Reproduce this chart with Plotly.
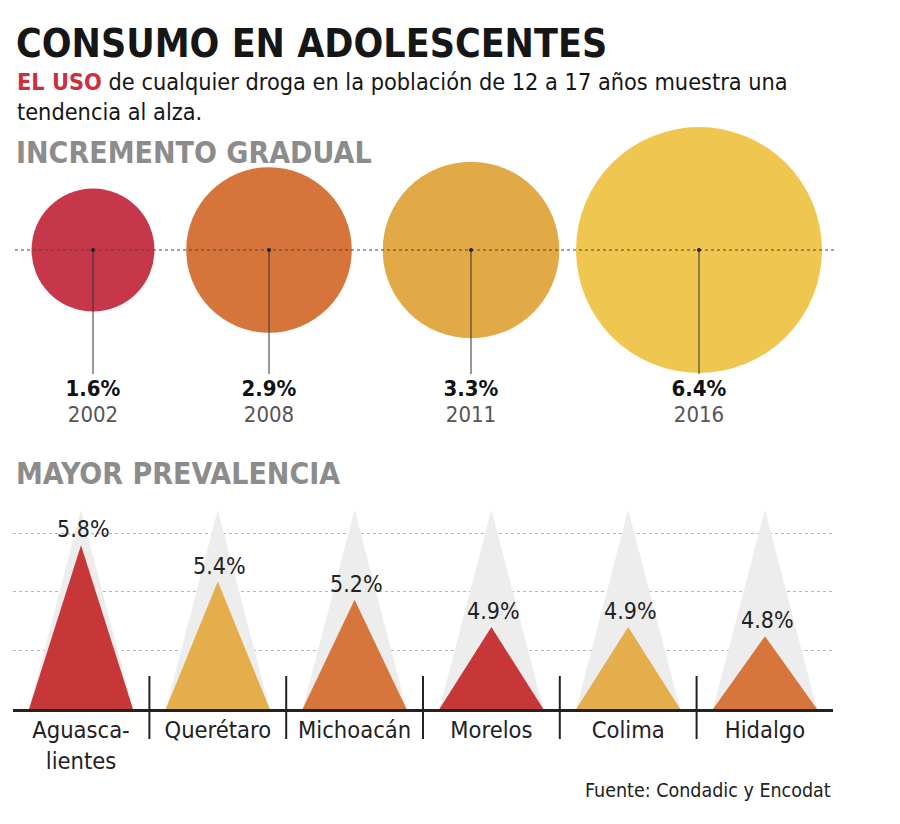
import plotly.graph_objects as go

# ---------------- data ----------------
years = ["2002", "2008", "2011", "2016"]
use_pct = [1.6, 2.9, 3.3, 6.4]

states = ["Aguascalientes", "Querétaro", "Michoacán", "Morelos", "Colima", "Hidalgo"]
state_labels = ["Aguasca-<br>lientes", "Querétaro", "Michoacán", "Morelos", "Colima", "Hidalgo"]
state_pct = [5.8, 5.4, 5.2, 4.9, 4.9, 4.8]

# ---------------- style / layout constants ----------------
W, H = 900, 824
FONT = "DejaVu Sans Condensed, Roboto, sans-serif"
bubble_colors = ["#C6374A", "#D5753B", "#E2A947", "#EFC64F"]
tri_colors = ["#C83737", "#E4AE4C", "#D6763D", "#C83737", "#E4AE4C", "#D6763D"]
bubble_cx = [93, 269, 471, 699]     # layout positions (px)
bubble_cy = 250
bubble_k = 48.6                      # radius px per sqrt(%)
leader_bottom = 374
pct_y, year_y = 390, 416

tri_half = 0.38
y_base, y_top = 4.0, 6.2
base_px = 709
px_per_unit = 91


def py(px):
    return 1 - px / H


fig = go.Figure()

# ---- top panel: bubbles ----
sizes = [2 * bubble_k * v ** 0.5 for v in use_pct]
fig.add_trace(go.Scatter(
    x=bubble_cx, y=[bubble_cy] * len(years), mode="markers",
    marker=dict(size=sizes, sizemode="diameter", color=bubble_colors,
                opacity=1, line=dict(width=0)),
    xaxis="x", yaxis="y", hoverinfo="skip", showlegend=False))

# horizontal dotted guide
fig.add_trace(go.Scatter(
    x=[15, 835], y=[bubble_cy, bubble_cy], mode="lines",
    line=dict(color="#444", width=1.2, dash="dot"),
    xaxis="x", yaxis="y", hoverinfo="skip", showlegend=False))

# leader lines
for cx in bubble_cx:
    fig.add_trace(go.Scatter(
        x=[cx, cx], y=[bubble_cy, leader_bottom], mode="lines",
        line=dict(color="#333", width=1),
        xaxis="x", yaxis="y", hoverinfo="skip", showlegend=False))

fig.add_trace(go.Scatter(
    x=bubble_cx, y=[bubble_cy] * len(years), mode="markers",
    marker=dict(size=4, color="#222"),
    xaxis="x", yaxis="y", hoverinfo="skip", showlegend=False))

fig.add_trace(go.Scatter(
    x=bubble_cx, y=[pct_y] * len(years), mode="text",
    text=[f"<b>{v:.1f}%</b>" for v in use_pct],
    textfont=dict(family=FONT, size=22, color="#111"),
    xaxis="x", yaxis="y", hoverinfo="skip", showlegend=False))
fig.add_trace(go.Scatter(
    x=bubble_cx, y=[year_y] * len(years), mode="text",
    text=years,
    textfont=dict(family=FONT, size=22, color="#555"),
    xaxis="x", yaxis="y", hoverinfo="skip", showlegend=False))

# ---- bottom panel: triangles ----
for i, v in enumerate(state_pct):
    fig.add_trace(go.Scatter(
        x=[i - tri_half, i, i + tri_half, i - tri_half],
        y=[y_base, y_top - 0.01, y_base, y_base],
        mode="lines", fill="toself", fillcolor="#EDEDED",
        line=dict(width=0, color="#EDEDED"),
        xaxis="x2", yaxis="y2", hoverinfo="skip", showlegend=False))
for i, v in enumerate(state_pct):
    fig.add_trace(go.Scatter(
        x=[i - tri_half, i, i + tri_half, i - tri_half],
        y=[y_base, v, y_base, y_base],
        mode="lines", fill="toself", fillcolor=tri_colors[i],
        line=dict(width=0, color=tri_colors[i]),
        xaxis="x2", yaxis="y2", hoverinfo="skip", showlegend=False))

annotations = []
for i, v in enumerate(state_pct):
    annotations.append(dict(
        text=f"{v:.1f}%", x=i, y=v, xref="x2", yref="y2",
        xanchor="center", yanchor="bottom", showarrow=False, yshift=1, xshift=2,
        font=dict(family=FONT, size=23, color="#222")))

# separators
shapes = []
for i in range(len(states) - 1):
    shapes.append(dict(type="line", xref="x2", yref="paper",
                       x0=i + 0.5, x1=i + 0.5, y0=py(739), y1=py(676),
                       line=dict(color="#222", width=2)))

heads = [
    dict(text="<b>CONSUMO EN ADOLESCENTES</b>", x=14 / W, y=py(44),
         font=dict(family=FONT, size=39, color="#161616")),
    dict(text='<span style="color:#C8323F"><b>EL USO</b></span> de cualquier droga en la población de 12 a 17 años muestra una',
         x=15 / W, y=py(81), font=dict(family=FONT, size=23.3, color="#161616")),
    dict(text="tendencia al alza.", x=15 / W, y=py(112),
         font=dict(family=FONT, size=23.3, color="#161616")),
    dict(text="<b>INCREMENTO GRADUAL</b>", x=14 / W, y=py(153),
         font=dict(family=FONT, size=30, color="#8C8C8C")),
    dict(text="<b>MAYOR PREVALENCIA</b>", x=14 / W, y=py(473),
         font=dict(family=FONT, size=30, color="#8C8C8C")),
]
for a in heads:
    a.update(xref="paper", yref="paper", xanchor="left", yanchor="middle",
             showarrow=False)
annotations += heads
annotations.append(dict(text="Fuente: Condadic y Encodat", x=833 / W, y=py(790),
                        xref="paper", yref="paper", xanchor="right", yanchor="middle",
                        showarrow=False, font=dict(family=FONT, size=19.5, color="#222")))

fig.update_layout(
    width=W, height=H, margin=dict(l=0, r=0, t=0, b=0),
    paper_bgcolor="white", plot_bgcolor="rgba(0,0,0,0)",
    showlegend=False,
    xaxis=dict(domain=[0, 1], range=[0, W], visible=False, fixedrange=True),
    yaxis=dict(domain=[0, 1], range=[H, 0], visible=False, fixedrange=True),
    xaxis2=dict(domain=[12.6 / W, 833.4 / W], range=[-0.5, 5.5], anchor="y2",
                tickvals=list(range(len(states))), ticktext=state_labels,
                tickfont=dict(family=FONT, size=23.5, color="#222"),
                showline=True, linecolor="#222", linewidth=2.5, fixedrange=True,
                showgrid=False, zeroline=False, ticks="", ticklabelstandoff=-2),
    yaxis2=dict(domain=[py(base_px), py(base_px - (y_top - y_base) * px_per_unit)],
                range=[y_base, y_top], anchor="x2", fixedrange=True,
                tickvals=[4.64, 5.29, 5.93], showticklabels=False,
                showgrid=True, gridcolor="#B5B5B5", griddash="dot", gridwidth=1,
                zeroline=False, showline=False, ticks=""),
    shapes=shapes, annotations=annotations,
)

fig.write_html("out.html", config={"displayModeBar": False},
               post_script="document.body.style.margin='0';document.body.style.overflow='hidden';")
